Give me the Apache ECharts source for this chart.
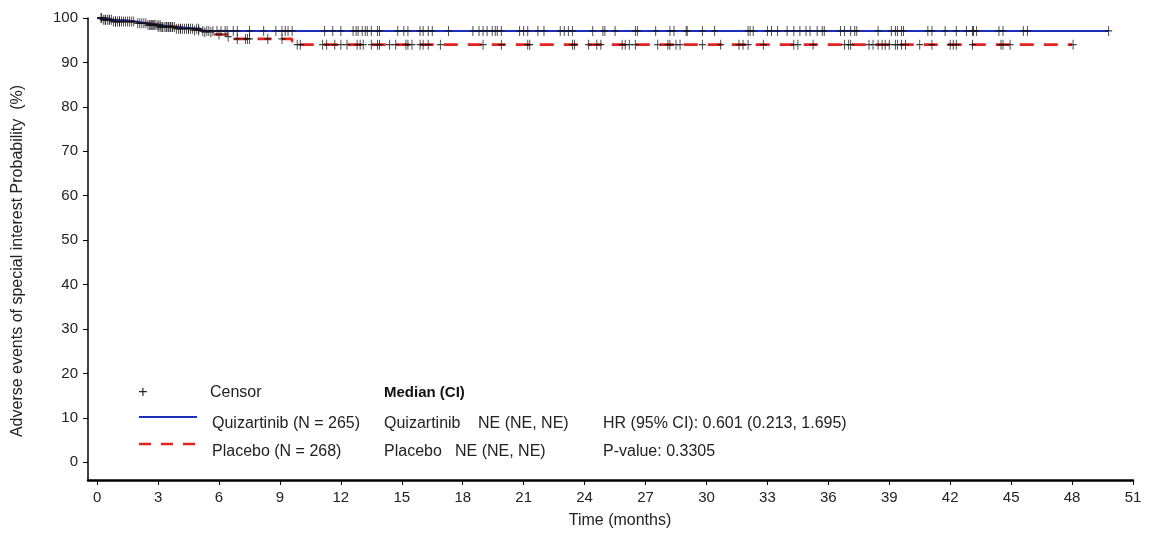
<!DOCTYPE html>
<html>
<head>
<meta charset="utf-8">
<script src="https://cdn.jsdelivr.net/npm/echarts@6/dist/echarts.min.js"></script>
<style>
html,body{margin:0;padding:0;background:#fff;}
#chart{width:1156px;height:533px;}
</style>
</head>
<body>
<div id="chart"></div>
<script>
// ---- data ----
const xTicks = [0,3,6,9,12,15,18,21,24,27,30,33,36,39,42,45,48,51];
const yTicks = [0,10,20,30,40,50,60,70,80,90,100];

// KM step points [time (months), survival (%)]
const quizSteps = [[0,100],[0.3,99.6],[0.8,99.2],[1.9,98.8],[2.4,98.4],[3.0,98.0],[3.8,97.6],[5.1,97.1],[49.8,97.1]];
const placeboSteps = [[0,100],[0.3,99.6],[0.8,99.2],[1.9,98.8],[2.5,98.4],[3.2,98.0],[3.9,97.6],[4.6,97.2],[5.2,96.8],[5.8,96.3],[6.4,95.8],[6.7,95.3],[9.6,94.7],[9.7,94.0],[48.0,94.0]];

// censoring times (months)
const quizCensor = [0.2,0.3,0.4,0.5,0.6,0.7,0.8,0.9,1.0,1.1,1.2,1.3,1.5,1.7,1.8,2.0,2.2,2.3,2.5,2.6,2.7,2.8,2.9,3.0,3.1,3.2,3.3,3.4,3.5,3.6,3.7,3.9,4.0,4.1,4.2,4.4,4.5,4.6,4.7,4.9,5.0,5.2,5.4,5.5,5.7,5.9,6.1,6.3,6.4,6.7,6.9,7.5,8.2,8.8,9.1,9.26,9.4,9.6,
  11.2,11.6,12.0,12.6,12.75,12.85,13.05,13.2,13.3,13.5,13.8,13.9,14.8,15.1,15.3,15.9,16.05,16.3,16.5,17.3,18.5,18.8,19.0,19.2,19.45,19.6,19.7,19.9,20.8,21.0,21.2,21.7,22.0,22.8,23.0,23.2,23.4,
  24.4,24.9,25.0,25.5,26.5,26.6,27.5,28.2,28.4,29.0,29.05,29.8,30.4,32.05,32.15,32.3,33.0,33.2,33.5,33.97,34.3,34.6,34.9,35.1,35.45,35.7,35.8,36.6,36.8,37.1,37.3,37.4,
  38.45,39.1,39.3,39.4,39.6,39.7,40.9,41.1,41.75,42.3,42.8,43.1,43.15,43.3,44.4,44.6,45.6,45.8,49.8];
const placeboCensor = [0.2,0.4,0.6,0.9,1.1,1.4,1.6,2.1,2.4,2.6,2.7,2.8,3.0,3.1,3.2,3.4,3.5,3.6,3.7,3.8,4.1,4.3,4.5,4.8,5.0,5.3,5.6,6.0,6.45,6.9,7.3,7.4,7.5,8.4,9.1,
  9.85,10.0,11.1,11.3,11.7,12.0,12.3,12.8,12.95,13.1,13.5,13.8,13.9,14.4,14.7,15.2,15.3,15.5,15.9,16.05,16.3,16.9,19.0,19.9,21.2,21.3,23.4,
  23.5,24.2,24.6,24.8,25.85,26.0,26.2,26.5,27.6,28.1,28.2,28.5,28.7,29.8,30.7,31.6,31.8,32.05,32.8,34.3,34.5,35.25,36.8,37.0,37.1,
  38.0,38.2,38.45,38.65,38.8,39.0,39.3,39.4,39.6,39.8,40.5,41.1,42.0,42.15,42.3,43.1,44.5,44.6,44.95,48.05];

// ---- helpers ----
function kmAt(steps, t){
  let v = steps[0][1];
  for (const s of steps){ if (s[0] <= t) v = s[1]; else break; }
  return v;
}
const quizCensorPts = quizCensor.map(t => [t, kmAt(quizSteps, t)]);
const placeboCensorPts = placeboCensor.map(t => [t, kmAt(placeboSteps, t)]);

const FONT = '"Liberation Sans", Arial, sans-serif';
const BLUE = '#1b2fbf';
const RED = '#e3231f';
const PLUS = 'path://M5,0L5,10M0,5L10,5';

const chart = echarts.init(document.getElementById('chart'), null, {renderer:'canvas'});
const gLeft = 88, gRight = 23, gTop = 18, gBottom = 53;

chart.setOption({
  animation:false,
  backgroundColor:'#fff',
  grid:{left:gLeft, right:gRight, top:gTop, bottom:gBottom, containLabel:false},
  xAxis:{
    type:'value', min:-0.45, max:51,
    axisLine:{show:true, onZero:false, lineStyle:{color:'#000', width:2.5}},
    axisTick:{show:true, length:5, customValues:xTicks, lineStyle:{color:'#000', width:1}},
    axisLabel:{customValues:xTicks, color:'#222', fontFamily:FONT, fontSize:15, margin:10},
    splitLine:{show:false}
  },
  yAxis:{
    type:'value', min:-4, max:100,
    axisLine:{show:true, onZero:false, lineStyle:{color:'#000', width:1.5}},
    axisTick:{show:true, length:5, customValues:yTicks, lineStyle:{color:'#000', width:1}},
    axisLabel:{customValues:yTicks, color:'#222', fontFamily:FONT, fontSize:15, margin:10},
    splitLine:{show:false}
  },
  series:[
    {name:'Placebo', type:'line', step:'end', data:placeboSteps, showSymbol:false, symbol:'none',
      lineStyle:{color:RED, width:2.6, type:[14,10]}, z:2},
    {name:'Quizartinib', type:'line', step:'end', data:quizSteps, showSymbol:false, symbol:'none',
      lineStyle:{color:BLUE, width:2}, z:3},
    {name:'CensorP', type:'scatter', data:placeboCensorPts, symbol:PLUS, symbolSize:[7,10],
      itemStyle:{color:'none', borderColor:'#111', borderWidth:1.1}, z:4, silent:true},
    {name:'CensorQ', type:'scatter', data:quizCensorPts, symbol:PLUS, symbolSize:[7,10],
      itemStyle:{color:'none', borderColor:'#111', borderWidth:1.1}, z:4, silent:true}
  ],
  graphic:[
    {type:'text', x:18, y:261, rotation:Math.PI/2,
      style:{text:'Adverse events of special interest Probability  (%)', font:'16px '+FONT, fill:'#222', align:'center', verticalAlign:'middle'}},
    {type:'text', x:620, y:521,
      style:{text:'Time (months)', font:'16px '+FONT, fill:'#222', align:'center', verticalAlign:'middle'}},
    // legend
    {type:'text', x:143, y:393, style:{text:'+', font:'16px '+FONT, fill:'#222', align:'center', verticalAlign:'middle'}},
    {type:'text', x:210, y:393, style:{text:'Censor', font:'16px '+FONT, fill:'#222', verticalAlign:'middle'}},
    {type:'text', x:384, y:393, style:{text:'Median (CI)', font:'bold 15px '+FONT, fill:'#111', verticalAlign:'middle'}},
    {type:'line', shape:{x1:139, y1:417, x2:197, y2:417}, style:{stroke:BLUE, lineWidth:2}},
    {type:'text', x:212, y:424, style:{text:'Quizartinib (N = 265)', font:'16px '+FONT, fill:'#222', verticalAlign:'middle'}},
    {type:'text', x:384, y:424, style:{text:'Quizartinib', font:'16px '+FONT, fill:'#222', verticalAlign:'middle'}},
    {type:'text', x:478, y:424, style:{text:'NE (NE, NE)', font:'16px '+FONT, fill:'#222', verticalAlign:'middle'}},
    {type:'text', x:603, y:424, style:{text:'HR (95% CI): 0.601 (0.213, 1.695)', font:'16px '+FONT, fill:'#222', verticalAlign:'middle'}},
    {type:'line', shape:{x1:139, y1:444, x2:197, y2:444}, style:{stroke:RED, lineWidth:2.6, lineDash:[12,10]}},
    {type:'text', x:212, y:452, style:{text:'Placebo (N = 268)', font:'16px '+FONT, fill:'#222', verticalAlign:'middle'}},
    {type:'text', x:384, y:452, style:{text:'Placebo', font:'16px '+FONT, fill:'#222', verticalAlign:'middle'}},
    {type:'text', x:455, y:452, style:{text:'NE (NE, NE)', font:'16px '+FONT, fill:'#222', verticalAlign:'middle'}},
    {type:'text', x:603, y:452, style:{text:'P-value: 0.3305', font:'16px '+FONT, fill:'#222', verticalAlign:'middle'}}
  ]
});
</script>
</body>
</html>
